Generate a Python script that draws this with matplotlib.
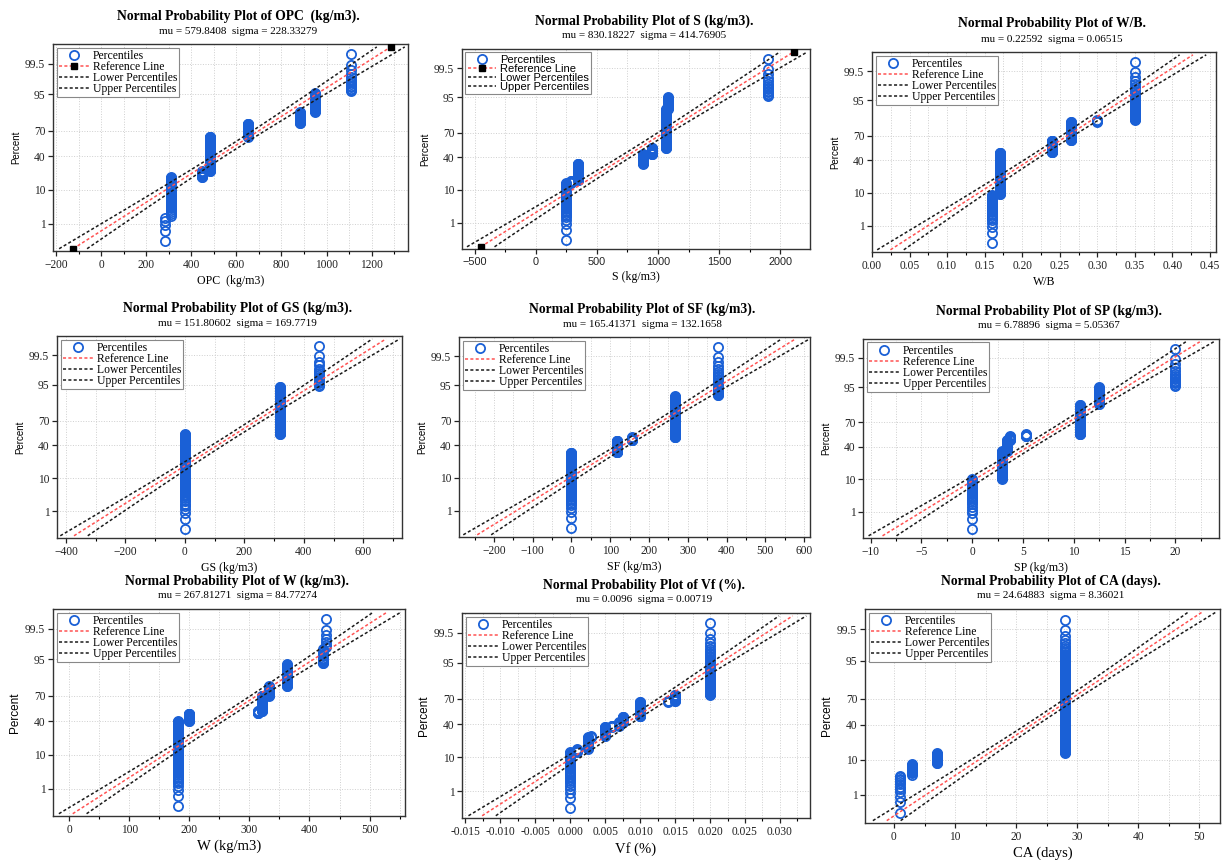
import matplotlib
matplotlib.use('Agg')
import matplotlib.pyplot as plt
from matplotlib.lines import Line2D
from matplotlib.ticker import MultipleLocator, FormatStrFormatter
import numpy as np
from statistics import NormalDist

# ---- data: distinct values and how many samples sit at each ----
OPC_VALUES = [281, 307, 447, 481, 652, 881, 948, 1108]
OPC_COUNTS = [5, 50, 16, 119, 42, 27, 28, 13]

S_VALUES = [248, 284, 349, 881, 952, 1067, 1086, 1899]
S_COUNTS = [43, 5, 49, 34, 24, 115, 16, 14]

WB_VALUES = [0.16, 0.17, 0.24, 0.265, 0.30, 0.35]
WB_COUNTS = [27, 122, 45, 56, 4, 46]

GS_VALUES = [0, 320, 450]
GS_COUNTS = [162, 122, 16]

SF_VALUES = [0, 118, 155, 267, 378]
SF_COUNTS = [94, 44, 12, 122, 28]

SP_VALUES = [0, 2.95, 3.44, 3.74, 5.25, 10.66, 12.5, 20]
SP_COUNTS = [30, 74, 41, 15, 7, 92, 27, 14]

W_VALUES = [181.7, 200, 315, 320.5, 333, 363, 422, 427]
W_COUNTS = [120, 28, 9, 53, 28, 42, 13, 7]

VF_VALUES = [0, 0.001, 0.0025, 0.003, 0.005, 0.006, 0.007, 0.0075, 0.010, 0.014, 0.015, 0.020]
VF_COUNTS = [39, 7, 30, 3, 31, 4, 12, 21, 53, 3, 20, 77]

CA_VALUES = [1, 3, 7, 28]
CA_COUNTS = [12, 12, 18, 258]

NAMES = ['OPC  (kg/m3)', 'S (kg/m3)', 'W/B', 'GS (kg/m3)', 'SF (kg/m3)',
         'SP (kg/m3)', 'W (kg/m3)', 'Vf (%)', 'CA (days)']
MU = [579.8408, 830.18227, 0.22592, 151.80602, 165.41371, 6.78896, 267.81271, 0.0096, 24.64883]
SIGMA = [228.33279, 414.76905, 0.06515, 169.7719, 132.1658, 5.05367, 84.77274, 0.00719, 8.36021]

PERCENT_TICKS = [1, 10, 40, 70, 95, 99.5]

DATA = [(OPC_VALUES, OPC_COUNTS), (S_VALUES, S_COUNTS), (WB_VALUES, WB_COUNTS),
        (GS_VALUES, GS_COUNTS), (SF_VALUES, SF_COUNTS), (SP_VALUES, SP_COUNTS),
        (W_VALUES, W_COUNTS), (VF_VALUES, VF_COUNTS), (CA_VALUES, CA_COUNTS)]

# ---- layout (pixels of the 1231x860 canvas) ----
W_PX, H_PX = 1231, 860
BOXES = [(53, 408, 44, 251), (462, 810, 49, 249), (872, 1216, 52, 252),
         (57, 402, 336, 538), (459, 810, 337, 537), (863, 1219, 339, 538),
         (53, 405, 609, 816), (462, 810, 613, 818), (865, 1220, 609, 823)]
XLIMS = [(-215, 1362), (-605, 2245), (0, 0.458), (-430, 730), (-290, 615),
         (-10.75, 24.3), (-27, 559), (-0.0155, 0.0343), (-4.75, 53.4)]
XSTEPS = [200, 500, 0.05, 200, 100, 5, 100, 0.005, 10]
XFMT = [None, None, '%.2f', None, None, None, None, '%.3f', None]
SQUARES = [True, True, False, False, False, False, False, False, False]
SANS = [False, True, False, False, False, False, False, False, False]

BLUE = '#1a60d6'
RED = '#ff5252'
DARK = '#1a1a1a'
DASH = (2.0, 1.5)

plt.rcParams['font.family'] = ['Liberation Serif', 'DejaVu Serif']
nd = NormalDist()

fig = plt.figure(figsize=(W_PX / 100, H_PX / 100), dpi=100)

for k, (vals, cnts) in enumerate(DATA):
    l, r, t, b = BOXES[k]
    ax = fig.add_axes([l / W_PX, 1 - b / H_PX, (r - l) / W_PX, (b - t) / H_PX])

    x = np.sort(np.repeat(vals, cnts))
    n = len(x)
    p = (np.arange(1, n + 1) - 0.375) / (n + 0.25)
    z = np.array([nd.inv_cdf(q) for q in p])

    mu, sigma = MU[k], SIGMA[k]
    zz = np.linspace(nd.inv_cdf(0.001), nd.inv_cdf(0.999), 120)
    ref = mu + sigma * zz
    band = 1.96 * sigma * np.sqrt(1.0 / n + zz ** 2 / (2.0 * n))

    ax.plot(x, z, 'o', ms=6.6, mfc='none', mec=BLUE, mew=1.3, zorder=2)
    ax.plot(ref - band, zz, color=DARK, lw=1.1, dashes=DASH, zorder=3)
    ax.plot(ref + band, zz, color=DARK, lw=1.1, dashes=DASH, zorder=3)
    ax.plot(ref, zz, color=RED, lw=1.1, dashes=DASH, zorder=4)
    if SQUARES[k]:
        ax.plot([ref[0], ref[-1]], [zz[0], zz[-1]], 's', color='black', ms=4.5, zorder=5)

    ax.set_xlim(*XLIMS[k])
    ax.set_ylim(-3.16, 3.18)
    ax.xaxis.set_major_locator(MultipleLocator(XSTEPS[k]))
    ax.xaxis.set_minor_locator(MultipleLocator(XSTEPS[k] / 2))
    if XFMT[k]:
        ax.xaxis.set_major_formatter(FormatStrFormatter(XFMT[k]))
    ax.set_yticks([nd.inv_cdf(v / 100) for v in PERCENT_TICKS])
    ax.set_yticklabels([f'{v:g}' for v in PERCENT_TICKS])

    ax.grid(True, which='both', axis='x', ls=':', color='#cfcfcf', lw=0.7)
    ax.grid(True, which='major', axis='y', ls=':', color='#cfcfcf', lw=0.7)
    ax.set_axisbelow(True)

    ax.tick_params(which='major', direction='out', length=3.5, width=0.9, labelsize=8.3,
                   colors='#222222', pad=2)
    ax.tick_params(which='minor', direction='out', length=2, width=0.8)
    ax.tick_params(axis='y', which='minor', left=False)
    if SANS[k]:
        ax.tick_params(axis='x', labelfontfamily='Liberation Sans', labelsize=7.8)
    for s in ax.spines.values():
        s.set_color('#333333')
        s.set_linewidth(1.0)

    big = k >= 6
    ax.set_xlabel(NAMES[k], fontsize=10.5 if big else 8.6, labelpad=3)
    ax.set_ylabel('Percent', fontsize=8.5 if big else 7, labelpad=3, family='Liberation Sans')

    cx = 0.5 + 8 / (r - l)
    ax.annotate(f'Normal Probability Plot of {NAMES[k]}.', xy=(cx, 1), xycoords='axes fraction',
                xytext=(0, 28 * 0.72), textcoords='offset points', ha='center', va='center',
                fontsize=9.8, fontweight='bold')
    ax.annotate(f'mu = {MU[k]}  sigma = {SIGMA[k]}', xy=(cx, 1), xycoords='axes fraction',
                xytext=(0, 13 * 0.72), textcoords='offset points', ha='center', va='center',
                fontsize=8.0)

    ref_handle = Line2D([], [], color=RED, lw=1.1, dashes=DASH)
    if SQUARES[k]:
        ref_handle = Line2D([], [], color=RED, lw=1.1, dashes=DASH,
                            marker='s', mfc='black', mec='black', ms=4.5)
    handles = [Line2D([], [], ls='none', marker='o', ms=6.6, mfc='none', mec=BLUE, mew=1.3),
               ref_handle,
               Line2D([], [], color=DARK, lw=1.1, dashes=DASH),
               Line2D([], [], color=DARK, lw=1.1, dashes=DASH)]
    labels = ['Percentiles', 'Reference Line', 'Lower Percentiles', 'Upper Percentiles']
    leg = ax.legend(handles, labels, loc='upper left', frameon=True,
                    fancybox=False, edgecolor='#888888', framealpha=1, handlelength=2.6,
                    handletextpad=0.3, labelspacing=-0.08, borderpad=0.2, borderaxespad=0.3,
                    prop={'family': 'Liberation Sans' if SANS[k] else 'Liberation Serif',
                          'size': 8.0 if SANS[k] else 8.4})
    leg.get_frame().set_linewidth(0.8)

fig.savefig('out.png', dpi=100)
